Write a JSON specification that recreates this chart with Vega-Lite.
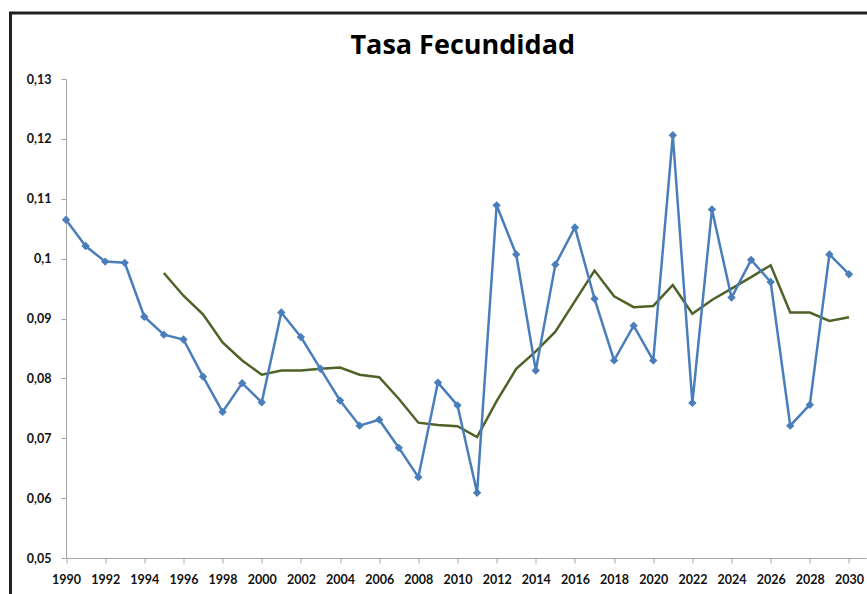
{
  "$schema": "https://vega.github.io/schema/vega-lite/v6.json",
  "autosize": {"type": "none"},
  "padding": {"left": 10.5, "top": 13, "right": 0, "bottom": 0},
  "width": 856.5,
  "height": 581,
  "background": "white",
  "title": {
    "text": "Tasa Fecundidad",
    "font": "Open Sans",
    "fontSize": 27,
    "fontWeight": "bold",
    "color": "#000000",
    "anchor": "middle",
    "frame": "group",
    "orient": "top",
    "baseline": "alphabetic",
    "offset": -68,
    "dx": 24
  },
  "data": {
    "values": [
      {"year": 1990, "tasa": 0.1065, "media": null},
      {"year": 1991, "tasa": 0.1021, "media": null},
      {"year": 1992, "tasa": 0.0995, "media": null},
      {"year": 1993, "tasa": 0.0993, "media": null},
      {"year": 1994, "tasa": 0.0903, "media": null},
      {"year": 1995, "tasa": 0.0873, "media": 0.0976},
      {"year": 1996, "tasa": 0.0865, "media": 0.0938},
      {"year": 1997, "tasa": 0.0803, "media": 0.0907},
      {"year": 1998, "tasa": 0.0744, "media": 0.0860},
      {"year": 1999, "tasa": 0.0792, "media": 0.0830},
      {"year": 2000, "tasa": 0.0760, "media": 0.0806},
      {"year": 2001, "tasa": 0.0910, "media": 0.0813},
      {"year": 2002, "tasa": 0.0869, "media": 0.0813},
      {"year": 2003, "tasa": 0.0816, "media": 0.0816},
      {"year": 2004, "tasa": 0.0763, "media": 0.0818},
      {"year": 2005, "tasa": 0.0721, "media": 0.0806},
      {"year": 2006, "tasa": 0.0731, "media": 0.0802},
      {"year": 2007, "tasa": 0.0684, "media": 0.0766},
      {"year": 2008, "tasa": 0.0635, "media": 0.0726},
      {"year": 2009, "tasa": 0.0793, "media": 0.0722},
      {"year": 2010, "tasa": 0.0755, "media": 0.0720},
      {"year": 2011, "tasa": 0.0609, "media": 0.0702},
      {"year": 2012, "tasa": 0.1089, "media": 0.0762},
      {"year": 2013, "tasa": 0.1007, "media": 0.0816},
      {"year": 2014, "tasa": 0.0813, "media": 0.0845},
      {"year": 2015, "tasa": 0.0990, "media": 0.0878},
      {"year": 2016, "tasa": 0.1052, "media": 0.0929},
      {"year": 2017, "tasa": 0.0933, "media": 0.0980},
      {"year": 2018, "tasa": 0.0830, "media": 0.0937},
      {"year": 2019, "tasa": 0.0888, "media": 0.0919},
      {"year": 2020, "tasa": 0.0830, "media": 0.0921},
      {"year": 2021, "tasa": 0.1206, "media": 0.0956},
      {"year": 2022, "tasa": 0.0759, "media": 0.0908},
      {"year": 2023, "tasa": 0.1082, "media": 0.0931},
      {"year": 2024, "tasa": 0.0935, "media": 0.0950},
      {"year": 2025, "tasa": 0.0998, "media": 0.0969},
      {"year": 2026, "tasa": 0.0961, "media": 0.0989},
      {"year": 2027, "tasa": 0.0721, "media": 0.0910},
      {"year": 2028, "tasa": 0.0756, "media": 0.0910},
      {"year": 2029, "tasa": 0.1007, "media": 0.0896},
      {"year": 2030, "tasa": 0.0974, "media": 0.0902}
    ]
  },
  "encoding": {
    "x": {
      "field": "year",
      "type": "quantitative",
      "scale": {"domain": [1990, 2030.87], "range": [55.5, 855.5], "nice": false, "zero": false},
      "axis": {
        "title": null,
        "values": [1990, 1992, 1994, 1996, 1998, 2000, 2002, 2004, 2006, 2008, 2010, 2012, 2014, 2016, 2018, 2020, 2022, 2024, 2026, 2028, 2030],
        "format": "d",
        "offset": -36,
        "grid": false,
        "domainColor": "#a6a6a6",
        "domainWidth": 1,
        "tickColor": "#a6a6a6",
        "tickSize": 5,
        "labelPadding": 10,
        "labelFont": "Lato",
        "labelFontSize": 12.5,
        "labelFontWeight": "bold",
        "labelColor": "#111111",
        "labelOverlap": false,
        "labelFlush": false
      }
    }
  },
  "layer": [
    {
      "mark": {"type": "line", "color": "#4f6228", "strokeWidth": 2.5},
      "encoding": {
        "y": {
          "field": "media",
          "type": "quantitative",
          "scale": {"domain": [0.05, 0.13], "range": [545, 66], "nice": false, "zero": false},
          "axis": {
            "title": null,
            "values": [0.05, 0.06, 0.07, 0.08, 0.09, 0.1, 0.11, 0.12, 0.13],
            "labelExpr": "replace(format(datum.value, '~g'), '.', ',')",
            "offset": -55.5,
            "grid": false,
            "domainColor": "#a6a6a6",
            "domainWidth": 1,
            "tickColor": "#a6a6a6",
            "tickSize": 5,
            "labelPadding": 10,
            "labelFont": "Lato",
            "labelFontSize": 12.5,
            "labelFontWeight": "bold",
            "labelColor": "#111111",
            "labelOverlap": false,
            "labelFlush": false
          }
        }
      }
    },
    {
      "mark": {"type": "line", "color": "#4a7ebb", "strokeWidth": 2.5},
      "encoding": {"y": {"field": "tasa", "type": "quantitative"}}
    },
    {
      "mark": {"type": "point", "shape": "diamond", "filled": true, "size": 70, "color": "#4a7ebb", "opacity": 1},
      "encoding": {"y": {"field": "tasa", "type": "quantitative"}}
    }
  ],
  "config": {
    "view": {
      "stroke": "#231f20",
      "strokeWidth": 3,
      "strokeDash": [856.5, 1437.5, 581]
    }
  }
}
